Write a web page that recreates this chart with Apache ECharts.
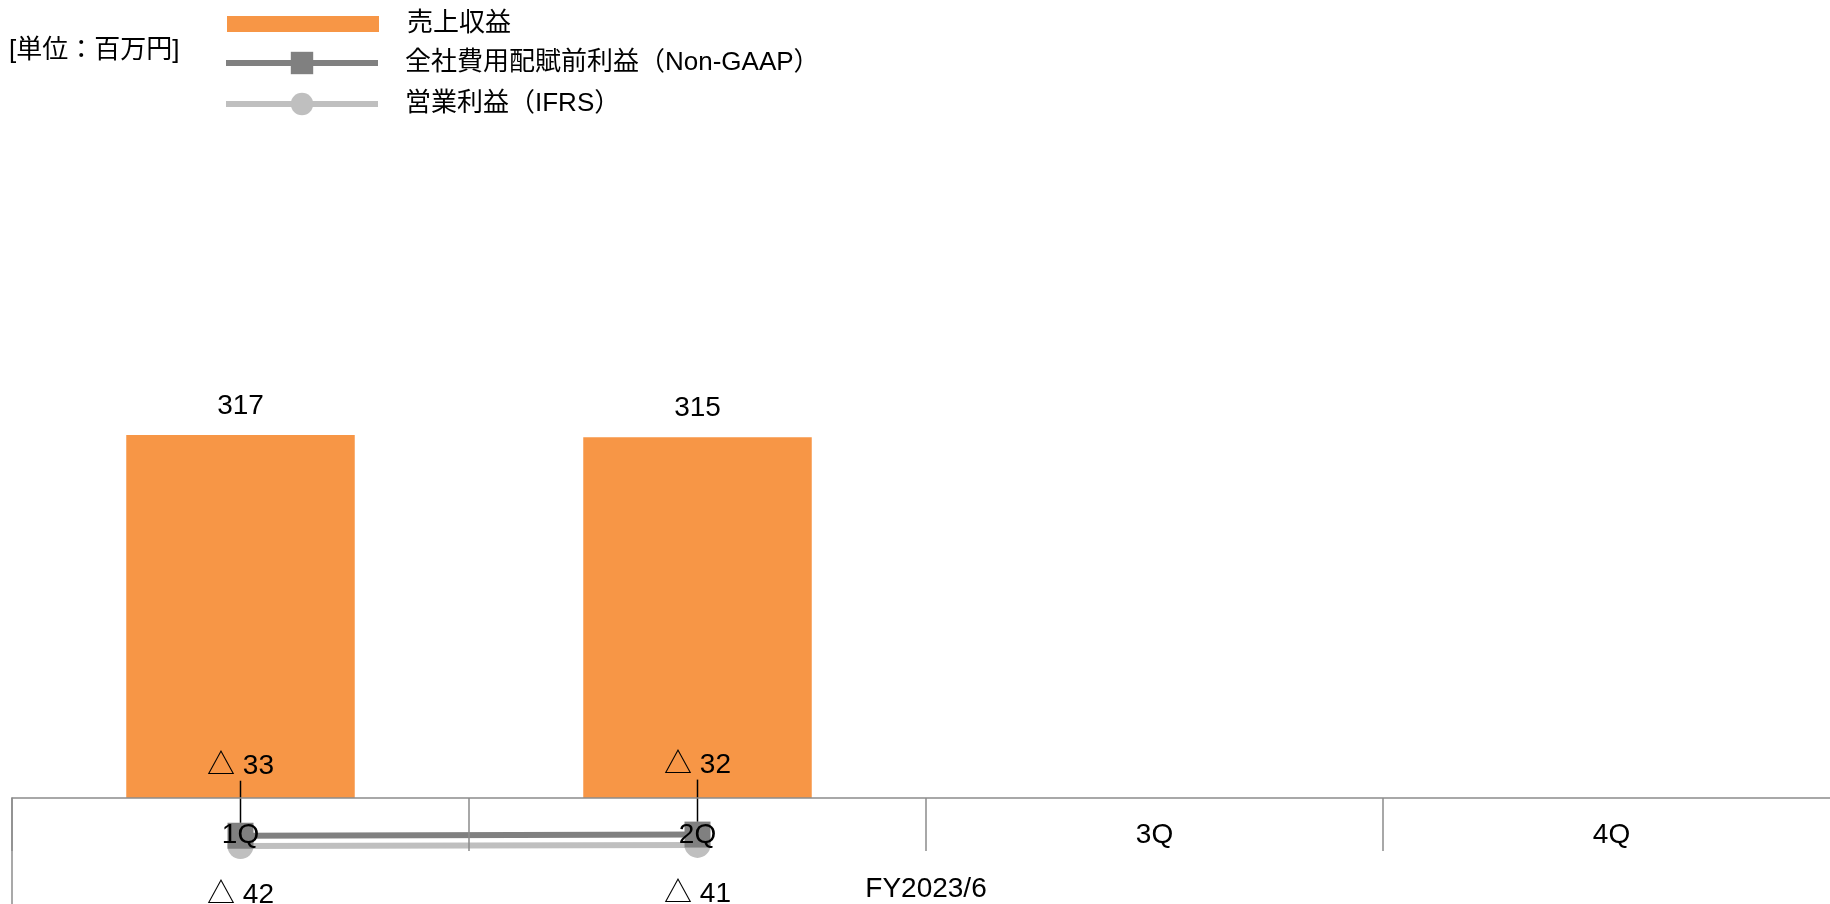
<!DOCTYPE html>
<html>
<head>
<meta charset="utf-8">
<script src="https://cdn.jsdelivr.net/npm/echarts@6/dist/echarts.min.js"></script>
<style>
html,body{margin:0;padding:0;background:#fff;}
#chart{width:1830px;height:904px;}
</style>
</head>
<body>
<div id="chart"></div>
<script>
const categories = ['1Q', '2Q', '3Q', '4Q'];
const periodLabel = ['FY2023/6'];
const revenue = [317, 315, null, null];
const nonGaapProfit = [-33, -32, null, null];
const ifrsProfit = [-42, -41, null, null];
const seriesNames = ['売上収益', '全社費用配賦前利益（Non-GAAP）', '営業利益（IFRS）'];
const unitText = '[単位：百万円]';

const FONT = "'Liberation Sans', 'Noto Sans CJK JP', sans-serif";
const tri = function (p) { return '△ ' + Math.abs(p.value); };

const chart = echarts.init(document.getElementById('chart'));
chart.setOption({
  backgroundColor: '#fff',
  animation: false,
  textStyle: { fontFamily: FONT, color: '#000' },
  title: {
    text: unitText, left: 4, top: 33,
    textStyle: { fontFamily: FONT, fontSize: 26, fontWeight: 'normal', color: '#000' }
  },
  legend: [
    {
      data: [{ name: seriesNames[0], icon: 'rect' }], left: 222, top: 6, orient: 'vertical',
      itemWidth: 152, itemHeight: 16,
      textStyle: { fontFamily: FONT, fontSize: 26, color: '#000', padding: [0, 0, 0, 23] }
    },
    {
      data: [seriesNames[1], seriesNames[2]], left: 218, top: 45, orient: 'vertical',
      itemWidth: 152, itemHeight: 28, itemGap: 15,
      lineStyle: { width: 6 },
      textStyle: { fontFamily: FONT, fontSize: 26, color: '#000', padding: [0, 0, 0, 22] }
    }
  ],
  grid: [
    { left: 12, right: -10, top: 111, bottom: 3, containLabel: false, outerBoundsMode: 'none' },
    { left: 12, width: 10, top: 798, bottom: 0, containLabel: false, outerBoundsMode: 'none' }
  ],
  xAxis: [
    {
      type: 'category', data: categories, gridIndex: 0, z: 10,
      axisLine: { show: true, onZero: true, lineStyle: { color: '#8C8C8C', width: 1.5 } },
      axisTick: { show: true, interval: 0, length: 53, lineStyle: { color: '#8C8C8C', width: 1.5 } },
      axisLabel: { fontSize: 28, color: '#000', margin: -80, fontFamily: FONT }
    },
    {
      type: 'category', data: periodLabel, gridIndex: 0, position: 'bottom',
      axisLine: { show: false, onZero: true }, axisTick: { show: false },
      axisLabel: { fontSize: 28, color: '#000', margin: -26, fontFamily: FONT }
    },
    { type: 'value', gridIndex: 1, show: false }
  ],
  yAxis: [
    { type: 'value', gridIndex: 0, min: -90, max: 600, show: false, splitLine: { show: false } },
    {
      type: 'value', gridIndex: 1, min: 0, max: 1,
      axisLine: { show: true, lineStyle: { color: '#8C8C8C', width: 1.5 } },
      axisTick: { show: false }, axisLabel: { show: false }, splitLine: { show: false }
    }
  ],
  series: [
    {
      name: seriesNames[0], type: 'bar', data: revenue, barWidth: '50%',
      itemStyle: { color: '#F79646' },
      label: { show: true, position: 'top', distance: 15, fontSize: 28, color: '#000', fontFamily: FONT }
    },
    {
      name: seriesNames[2], type: 'line', data: ifrsProfit,
      symbol: 'circle', symbolSize: 26, showAllSymbol: true,
      lineStyle: { color: '#BFBFBF', width: 6 }, itemStyle: { color: '#BFBFBF' },
      label: { show: true, position: 'bottom', distance: 22, fontSize: 28, color: '#000', formatter: tri, fontFamily: FONT }
    },
    {
      name: seriesNames[1], type: 'line', data: nonGaapProfit,
      symbol: 'rect', symbolSize: 26, showAllSymbol: true,
      lineStyle: { color: '#808080', width: 6 }, itemStyle: { color: '#808080' },
      label: { show: true, position: 'top', distance: 5, fontSize: 28, color: '#000', formatter: tri, fontFamily: FONT, padding: [0, 0, 9, 0] },
      labelLayout: { dy: -28 },
      labelLine: { show: true, showAbove: true, lineStyle: { color: '#000', width: 1.5 } }
    }
  ]
});
</script>
</body>
</html>
